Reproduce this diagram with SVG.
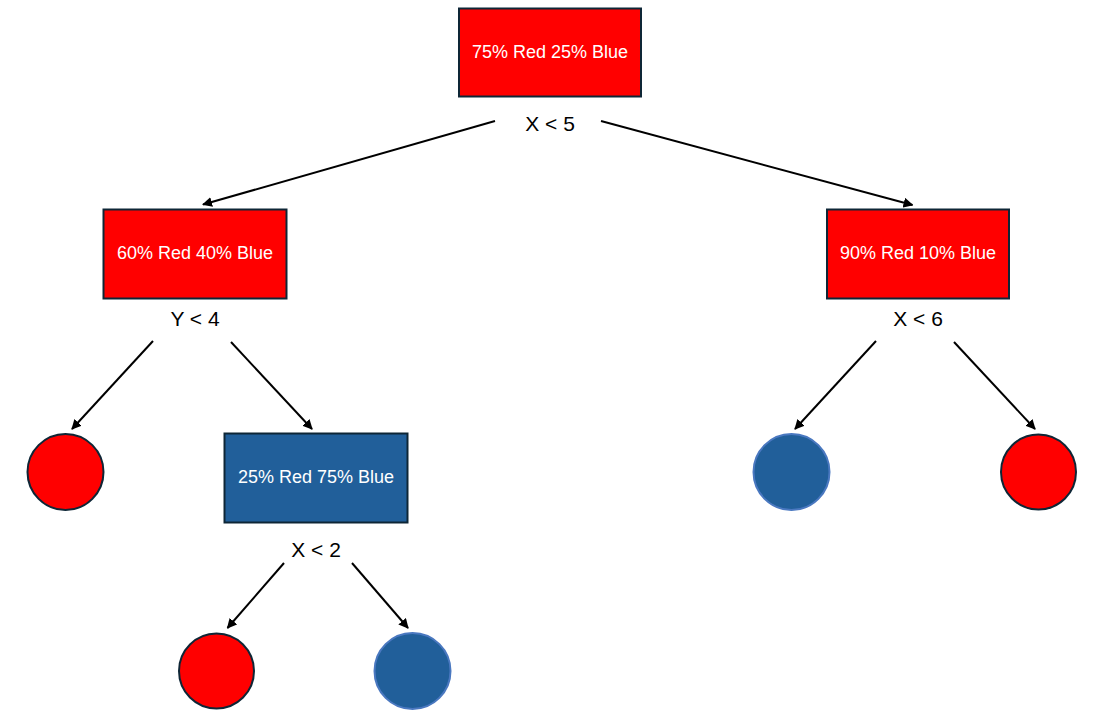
<svg xmlns="http://www.w3.org/2000/svg" width="1106" height="714" viewBox="0 0 1106 714">
<defs>
<marker id="ah" viewBox="0 0 10 10" refX="9" refY="5" markerWidth="5" markerHeight="5" orient="auto" markerUnits="strokeWidth">
<path d="M0,0 L10,5 L0,10 Z" fill="#000"/>
</marker>
<style>
.box{stroke:#0e2636;stroke-width:2}
.red{fill:#ff0000}
.blue{fill:#215f9a}
.cr{fill:#ff0000;stroke:#0e2636;stroke-width:2}
.cb{fill:#215f9a;stroke:#4a78c0;stroke-width:2}
.bt{font-family:"Liberation Sans",Arial,sans-serif;font-size:18px;fill:#ffffff;text-anchor:middle}
.lb{font-family:"Liberation Sans",Arial,sans-serif;font-size:21px;fill:#000;text-anchor:middle}
.conn line{stroke:#000;stroke-width:2;marker-end:url(#ah)}
</style>
</defs>
<rect width="1106" height="714" fill="#fff"/>
<g class="conn" id="connectors">
<line x1="495" y1="121" x2="203" y2="204.5"/>
<line x1="601" y1="121" x2="912.5" y2="205"/>
<line x1="153" y1="341" x2="72" y2="429"/>
<line x1="231" y1="342" x2="312" y2="429"/>
<line x1="876" y1="341" x2="795" y2="429"/>
<line x1="954" y1="342" x2="1035" y2="429"/>
<line x1="284" y1="563" x2="227.5" y2="628"/>
<line x1="352" y1="563" x2="408" y2="628"/>
</g>
<g id="root">
<rect class="box red" x="459" y="8.5" width="182" height="88"/>
<text class="bt" x="550" y="57.5">75% Red 25% Blue</text>
<text class="lb" x="550" y="131">X &lt; 5</text>
</g>
<g id="n_left">
<rect class="box red" x="103.5" y="209.5" width="183" height="89"/>
<text class="bt" x="195" y="259">60% Red 40% Blue</text>
<text class="lb" x="195" y="326">Y &lt; 4</text>
</g>
<g id="n_right">
<rect class="box red" x="827" y="209.5" width="182" height="89"/>
<text class="bt" x="918" y="259">90% Red 10% Blue</text>
<text class="lb" x="918" y="326">X &lt; 6</text>
</g>
<g id="leaf_ll">
<circle class="cr" cx="65.5" cy="472" r="38"/>
</g>
<g id="n_lr">
<rect class="box blue" x="224.5" y="433.5" width="183" height="89"/>
<text class="bt" x="316" y="483">25% Red 75% Blue</text>
<text class="lb" x="316" y="557">X &lt; 2</text>
</g>
<g id="leaf_rl">
<circle class="cb" cx="791.5" cy="472" r="38"/>
</g>
<g id="leaf_rr">
<circle class="cr" cx="1038.5" cy="472" r="37.5"/>
</g>
<g id="leaf_lrl">
<circle class="cr" cx="216.5" cy="671" r="37.5"/>
</g>
<g id="leaf_lrr">
<circle class="cb" cx="412.5" cy="671" r="38"/>
</g>
</svg>
